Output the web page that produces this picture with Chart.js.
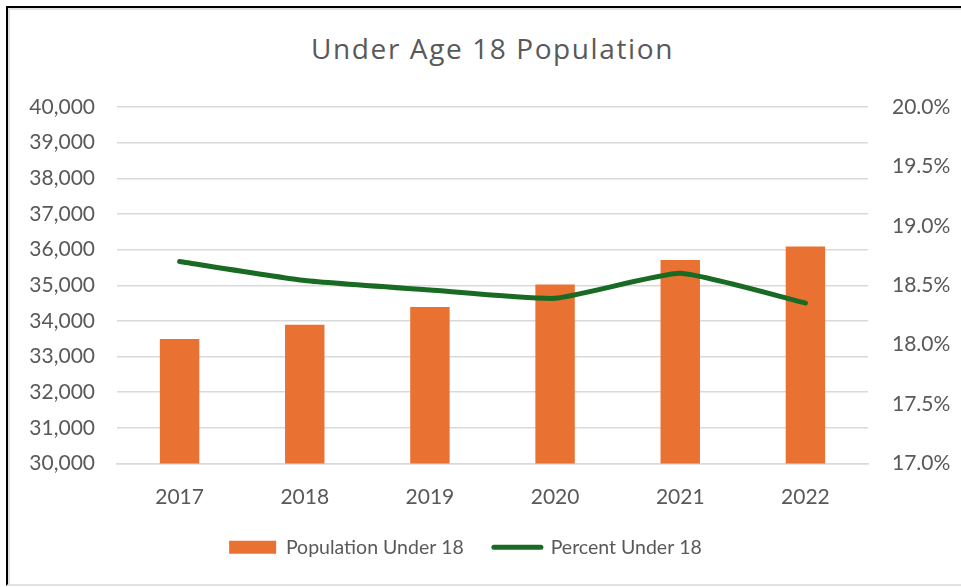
<!DOCTYPE html>
<html>
<head>
<meta charset="utf-8">
<script src="https://cdn.jsdelivr.net/npm/chart.js@4/dist/chart.umd.min.js"></script>
<style>
  html, body { margin: 0; padding: 0; background: #fff; }
  body { width: 961px; height: 587px; position: relative; overflow: hidden; }
  #frame {
    position: absolute; left: 6px; top: 6px; width: 970px; height: 576px;
    border-left: 2px solid #000; border-top: 2px solid #000; border-bottom: 2px solid #e2e2e2;
    box-shadow: inset 2px 2px 0 #e2e2e2;
  }
  #title {
    position: absolute; left: 117px; width: 751px; top: 29px;
    text-align: center; font-family: "Open Sans", sans-serif; font-size: 28px; color: #595959;
    letter-spacing: 1.6px; line-height: 38px; white-space: nowrap;
  }
  /* canvas is shifted left so the legend sits centred under the plot */
  #chart { position: absolute; left: -30px; top: 0; }
</style>
</head>
<body>
<div id="frame"></div>
<div id="title">Under Age 18 Population</div>
<canvas id="chart" width="991" height="587"></canvas>
<script>
// Under-18 population by year, with its share of the total population
const years = ['2017', '2018', '2019', '2020', '2021', '2022'];
const populationUnder18 = [33490, 33890, 34390, 35020, 35710, 36090];
const percentUnder18 = [18.70, 18.54, 18.46, 18.39, 18.60, 18.35];

const TEXT = '#595959';
const GRID = '#d9d9d9';
const ORANGE = '#E97132';
const GREEN = '#196B24';

const tickFont = { family: 'Lato, sans-serif', size: 21 };

new Chart(document.getElementById('chart'), {
  data: {
    labels: years,
    datasets: [
      {
        type: 'bar',
        label: 'Population Under 18',
        data: populationUnder18,
        yAxisID: 'y',
        backgroundColor: ORANGE,
        borderWidth: 0,
        categoryPercentage: 1,
        barPercentage: 0.315,
        order: 2
      },
      {
        type: 'line',
        label: 'Percent Under 18',
        data: percentUnder18,
        yAxisID: 'y1',
        borderColor: GREEN,
        backgroundColor: GREEN,
        borderWidth: 5,
        borderCapStyle: 'round',
        borderJoinStyle: 'round',
        pointRadius: 0,
        pointHoverRadius: 0,
        tension: 0.15,
        fill: false,
        order: 1
      }
    ]
  },
  options: {
    responsive: false,
    devicePixelRatio: 1,
    animation: false,
    layout: { padding: { top: 107, left: 0, right: 0, bottom: 20 } },
    plugins: {
      title: { display: false },
      tooltip: { enabled: false },
      legend: {
        display: true,
        position: 'bottom',
        labels: {
          color: TEXT,
          font: { family: 'Lato, sans-serif', size: 19.5 },
          usePointStyle: true,
          pointStyleWidth: 47,
          boxHeight: 13,
          padding: 30,
          sort: (a, b) => a.datasetIndex - b.datasetIndex,
          generateLabels(chart) {
            const items = Chart.defaults.plugins.legend.labels.generateLabels(chart);
            return items.map((it) => {
              const ds = chart.data.datasets[it.datasetIndex];
              if (ds.type === 'line') {
                return Object.assign(it, { pointStyle: 'line', lineWidth: 5, lineCap: 'round', strokeStyle: GREEN, fillStyle: GREEN });
              }
              return Object.assign(it, { pointStyle: 'rect', lineWidth: 0, fillStyle: ORANGE, strokeStyle: ORANGE });
            });
          }
        }
      }
    },
    scales: {
      x: {
        grid: { display: false },
        border: { display: true, color: GRID, width: 1.5 },
        ticks: { color: TEXT, font: tickFont, padding: 13, maxRotation: 0 },
        afterFit(scale) { scale.height = 44; }
      },
      y: {
        position: 'left',
        min: 30000,
        max: 40000,
        grid: { color: GRID, lineWidth: 1.5, drawTicks: false },
        border: { display: false },
        ticks: {
          stepSize: 1000,
          color: TEXT,
          font: tickFont,
          padding: 22,
          callback: (v) => v.toLocaleString('en-US')
        },
        afterFit(scale) { scale.width = 147; }
      },
      y1: {
        position: 'right',
        min: 17,
        max: 20,
        grid: { drawOnChartArea: false, drawTicks: false },
        border: { display: false },
        ticks: {
          stepSize: 0.5,
          color: TEXT,
          font: tickFont,
          padding: 24,
          callback: (v) => v.toFixed(1) + '%'
        },
        afterFit(scale) { scale.width = 93; }
      }
    }
  }
});
</script>
</body>
</html>
